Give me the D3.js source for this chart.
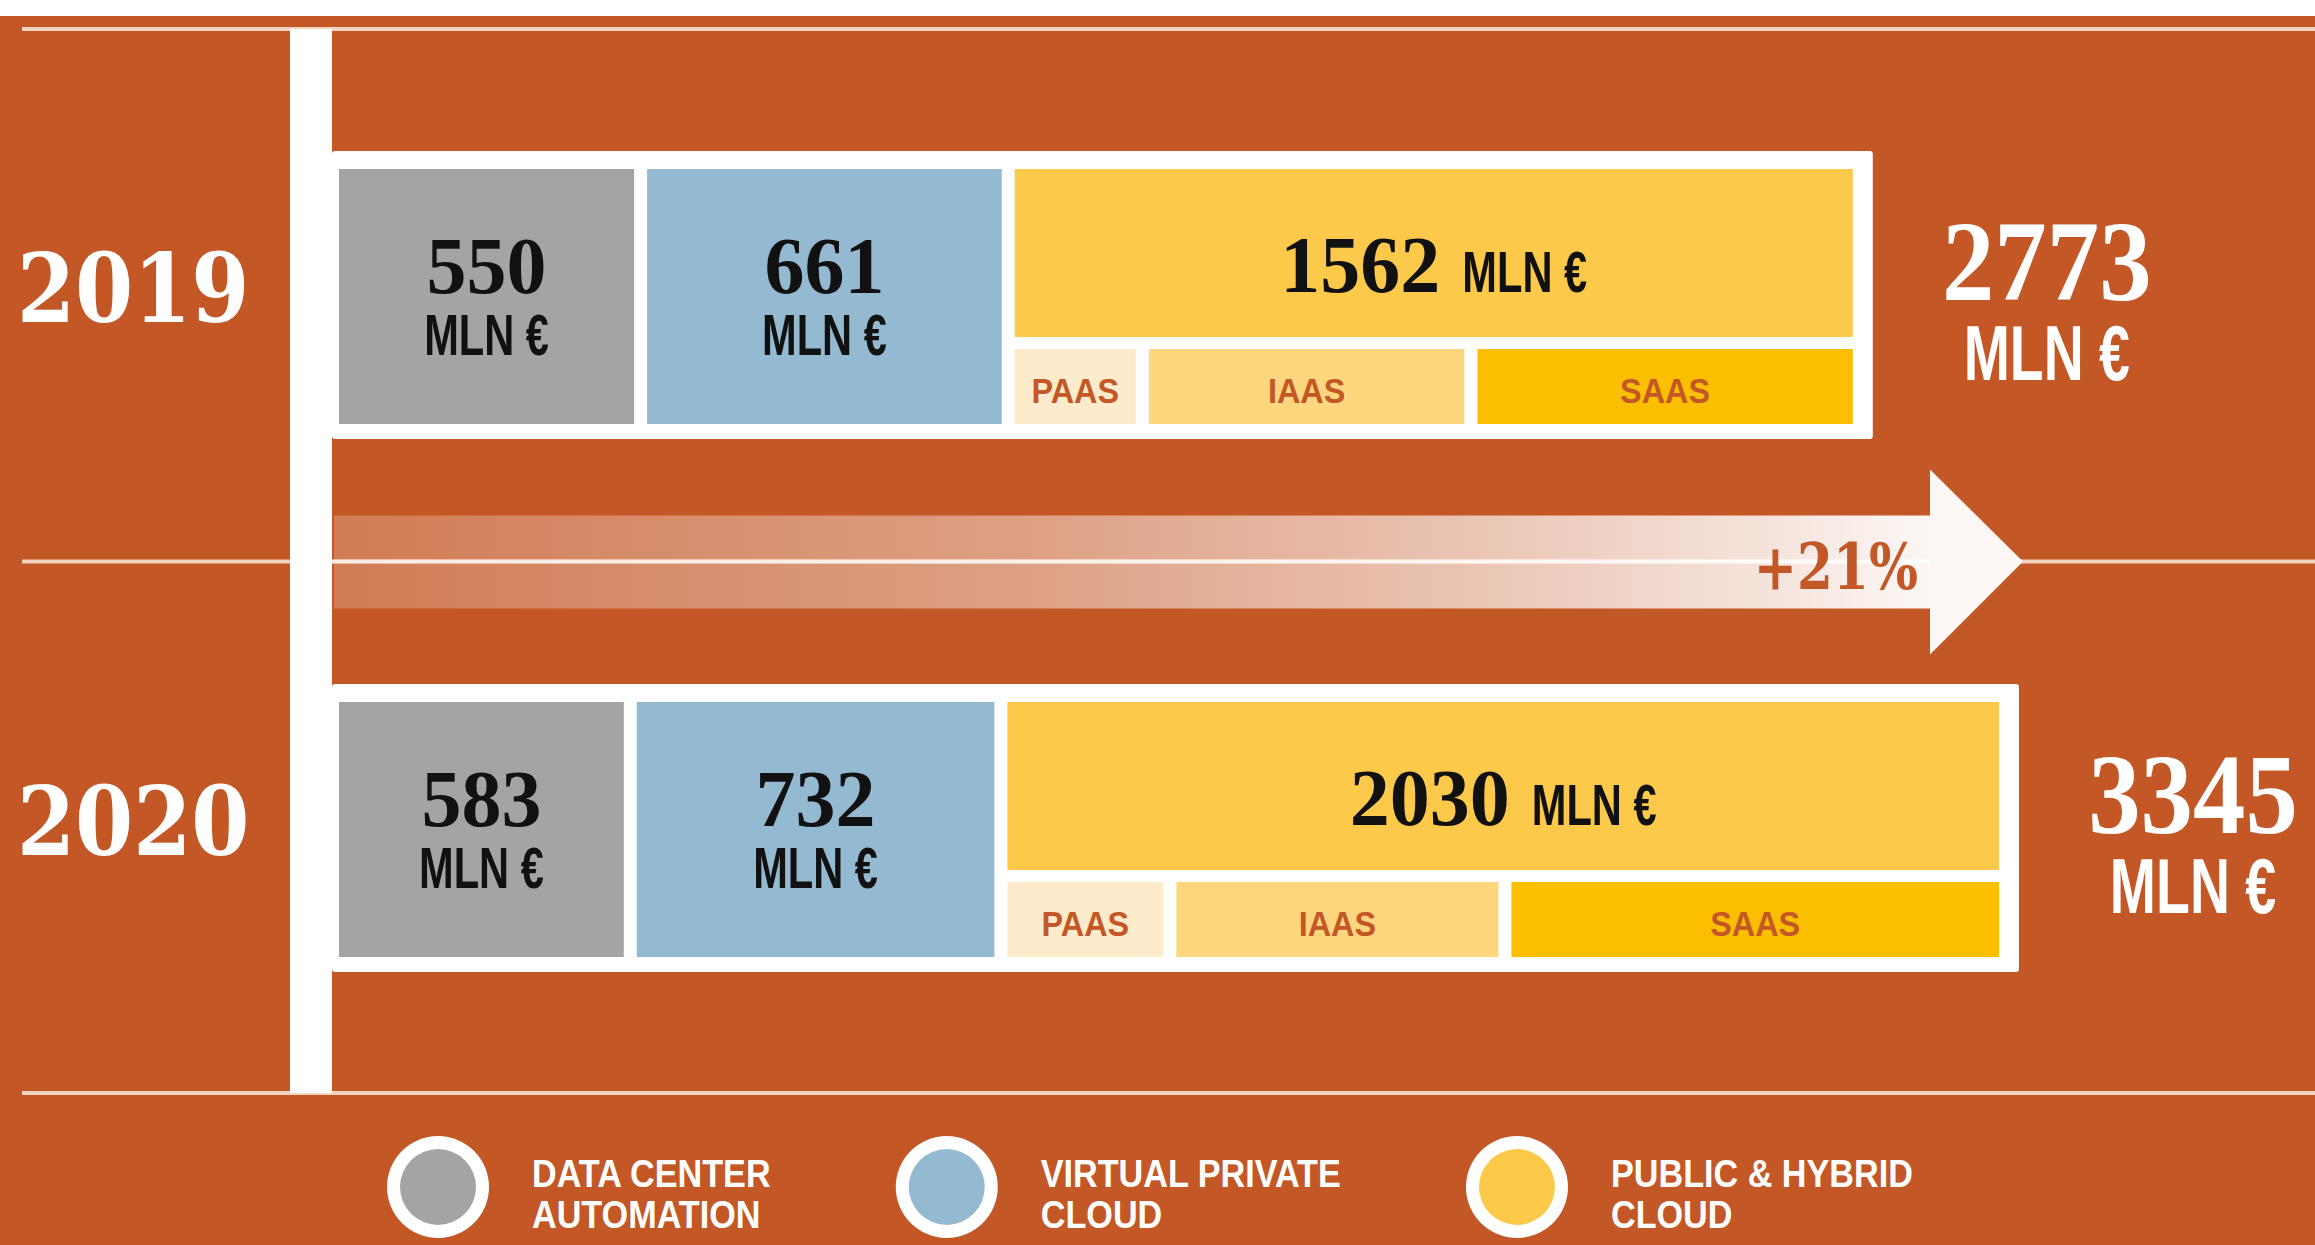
<!DOCTYPE html>
<html>
<head>
<meta charset="utf-8">
<script src="https://cdn.jsdelivr.net/npm/d3@7"></script>
<style>
    html, body { margin: 0; padding: 0; background: #fff; }
    svg { display: block; }
</style>
</head>
<body>
<svg id="chart"></svg>
<script>
//-------------------
// DATA
//-------------------
var years = ["2019", "2020"];
var dataCenter = [550, 583];
var virtualPrivate = [661, 732];
var publicHybrid = [1562, 2030];
var totals = [2773, 3345];
// split of public & hybrid cloud, estimated from the block widths
var paas = [233, 328];
var iaas = [607, 677];
var saas = [722, 1025];
var subLabels = ["PAAS", "IAAS", "SAAS"];
var unitLabel = "MLN €";
var legendLabels = [
    ["DATA CENTER", "AUTOMATION"],
    ["VIRTUAL PRIVATE", "CLOUD"],
    ["PUBLIC & HYBRID", "CLOUD"]
];

//-------------------
// GLOBAL VARIABLES
//-------------------
var width = 2315,
    height = 1245;

var bg = "#c45726",
    lineColor = "#f2d3bf",
    segColors = ["#a4a4a2", "#93bad1", "#fdc94a"],
    subColors = ["#feebcb", "#fdd67d", "#fbbe00"];

var serif = "'Liberation Serif', 'Times New Roman', serif",
    sans = "'Liberation Sans', Arial, sans-serif",
    stencil = "'DejaVu Serif', serif";

var frameLeft = 332, x0 = 339, gap = 13, framePad = 20;
var frameH = 288, innerTop = 18, innerH = 255, mainH = 168;
var topLineY = 29, bottomLineY = 1093;

var svg = d3.select("#chart")
    .attr("width", width)
    .attr("height", height);

// rows
var y = d3.scaleBand().domain(years).range([151, 1217]);
// the infographic is not to scale: bar length grows slowly with the total
var lengthScale = d3.scaleLinear().domain([0, d3.max(totals)]).range([805, 1660]);

// narrow a text horizontally around its anchor point
function squeeze(sel, factor) {
    sel.each(function () {
        var t = d3.select(this);
        var tx = +t.attr("x") || 0, ty = +t.attr("y") || 0;
        t.attr("x", 0).attr("y", 0)
            .attr("transform", "translate(" + tx + "," + ty + ") scale(" + factor + ",1)");
    });
}

function textWidth(sel) {
    return sel.node().getComputedTextLength();
}

//-------------------
// BACKGROUND
//-------------------
svg.append("rect").attr("width", width).attr("height", height).attr("fill", "#fff");
svg.append("rect").attr("y", 16).attr("width", width).attr("height", height - 16).attr("fill", bg);

var mid = (y(years[0]) + frameH + y(years[1])) / 2;

svg.selectAll("line.rule")
    .data([topLineY, mid, bottomLineY])
    .enter()
    .append("line")
    .attr("class", "rule")
    .attr("x1", 22).attr("x2", width)
    .attr("y1", d => d).attr("y2", d => d)
    .attr("stroke", lineColor)
    .attr("stroke-width", 4);

// white vertical bar
svg.append("rect")
    .attr("x", 290).attr("y", topLineY)
    .attr("width", frameLeft - 290).attr("height", bottomLineY - topLineY)
    .attr("fill", "#fff");

//-------------------
// GROWTH ARROW
//-------------------
var defs = svg.append("defs");
var grad = defs.append("linearGradient").attr("id", "fade")
    .attr("x1", "0%").attr("x2", "100%").attr("y1", "0%").attr("y2", "0%");
[[0, 0.22], [0.44, 0.44], [0.72, 0.66], [0.9, 0.84], [1, 0.95]].forEach(s => {
    grad.append("stop").attr("offset", s[0]).attr("stop-color", "#fff").attr("stop-opacity", s[1]);
});

var lastLen = lengthScale(totals[totals.length - 1]);
var tipX = x0 + lastLen + framePad + 4,
    headX = tipX - 93;

svg.append("rect")
    .attr("x", frameLeft + 2).attr("y", mid - 46)
    .attr("width", headX - frameLeft - 2).attr("height", 93)
    .attr("fill", "url(#fade)");

svg.append("line")
    .attr("x1", frameLeft).attr("x2", headX)
    .attr("y1", mid).attr("y2", mid)
    .attr("stroke", "#fff").attr("stroke-opacity", 0.45)
    .attr("stroke-width", 4);

svg.append("path")
    .attr("d", "M" + headX + "," + (mid - 46) + "L" + headX + "," + (mid - 92) +
        "L" + tipX + "," + mid + "L" + headX + "," + (mid + 93) +
        "L" + headX + "," + (mid + 47) + "Z")
    .attr("fill", "#fdf8f4");

svg.append("text")
    .attr("x", headX - 12).attr("y", mid + 27)
    .attr("text-anchor", "end")
    .attr("font-family", stencil).attr("font-weight", "bold")
    .attr("font-size", 63).attr("fill", bg)
    .text(d3.format("+.0%")(totals[1] / totals[0] - 1))
    .call(squeeze, 0.82);

//-------------------
// ROWS
//-------------------
years.forEach((year, i) => {
    var top = y(year);
    var len = lengthScale(totals[i]);
    var x = d3.scaleLinear().domain([0, totals[i]]).range([x0, x0 + len - gap * 2]);
    var frameRight = x0 + len + framePad;
    var g = svg.append("g").attr("class", "row");

    g.append("rect")
        .attr("x", frameLeft).attr("y", top)
        .attr("width", frameRight - frameLeft).attr("height", frameH)
        .attr("rx", 3)
        .attr("fill", "#fff");

    var values = [dataCenter[i], virtualPrivate[i], publicHybrid[i]];
    var cum = 0;
    var segs = values.map((v, k) => {
        var s = { v: v, k: k, x: x(cum) + k * gap };
        cum += v;
        s.w = x(cum) - x(cum - v);
        return s;
    });

    g.selectAll("rect.seg")
        .data(segs)
        .enter()
        .append("rect")
        .attr("class", "seg")
        .attr("x", d => d.x)
        .attr("y", top + innerTop)
        .attr("width", d => d.w)
        .attr("height", d => d.k === 2 ? mainH : innerH)
        .attr("fill", d => segColors[d.k]);

    // gray + blue labels
    segs.slice(0, 2).forEach(d => {
        var cx = d.x + d.w / 2;
        g.append("text")
            .attr("x", cx).attr("y", top + 142)
            .attr("text-anchor", "middle")
            .attr("font-family", serif).attr("font-weight", "bold")
            .attr("font-size", 80).attr("fill", "#111")
            .text(d.v);
        g.append("text")
            .attr("x", cx).attr("y", top + 204)
            .attr("text-anchor", "middle")
            .attr("font-family", sans).attr("font-weight", "bold")
            .attr("font-size", 57).attr("fill", "#111")
            .text(unitLabel)
            .call(squeeze, 0.73);
    });

    // public & hybrid label: number + unit centred as one group
    var yel = segs[2];
    var num = g.append("text")
        .attr("font-family", serif).attr("font-weight", "bold")
        .attr("font-size", 80).attr("fill", "#111")
        .text(yel.v);
    var unit = g.append("text")
        .attr("font-family", sans).attr("font-weight", "bold")
        .attr("font-size", 57).attr("fill", "#111")
        .text(unitLabel);
    var wN = textWidth(num),
        wU = textWidth(unit) * 0.73;
    var startX = yel.x + yel.w / 2 - (wN + 22 + wU) / 2;
    num.attr("x", startX).attr("y", top + 141);
    unit.attr("x", startX + wN + 22).attr("y", top + 141).call(squeeze, 0.73);

    // sub blocks
    var xs = d3.scaleLinear().domain([0, publicHybrid[i]]).range([yel.x, yel.x + yel.w - gap * 2]);
    var subVals = [paas[i], iaas[i], saas[i]];
    var c = 0;
    var subs = subVals.map((v, k) => {
        var s = { v: v, k: k, x: xs(c) + k * gap };
        c += v;
        s.w = xs(c) - xs(c - v);
        return s;
    });
    var subTop = top + innerTop + mainH + 12,
        subH = innerH - mainH - 12;

    g.selectAll("rect.sub")
        .data(subs)
        .enter()
        .append("rect")
        .attr("class", "sub")
        .attr("x", d => d.x).attr("y", subTop)
        .attr("width", d => d.w).attr("height", subH)
        .attr("fill", d => subColors[d.k]);

    g.selectAll("text.sub")
        .data(subs)
        .enter()
        .append("text")
        .attr("class", "sub")
        .attr("x", d => d.x + d.w / 2).attr("y", top + 252)
        .attr("text-anchor", "middle")
        .attr("font-family", sans).attr("font-weight", "bold")
        .attr("font-size", 36).attr("fill", bg)
        .text(d => subLabels[d.k])
        .call(squeeze, 0.9);

    // year
    svg.append("text")
        .attr("x", 17).attr("y", top + 171)
        .attr("font-family", stencil).attr("font-weight", "bold")
        .attr("font-size", 96).attr("fill", "#fff")
        .text(year)
        .call(squeeze, 0.87);

    // total
    var tx = frameRight + 174;
    svg.append("text")
        .attr("x", tx).attr("y", top + 149)
        .attr("text-anchor", "middle")
        .attr("font-family", serif).attr("font-weight", "bold")
        .attr("font-size", 114).attr("fill", "#fff")
        .text(totals[i])
        .call(squeeze, 0.92);
    svg.append("text")
        .attr("x", tx).attr("y", top + 229)
        .attr("text-anchor", "middle")
        .attr("font-family", sans).attr("font-weight", "bold")
        .attr("font-size", 77).attr("fill", "#fff")
        .text(unitLabel)
        .call(squeeze, 0.72);
});

//-------------------
// LEGEND
//-------------------
var legendY = 1187;
var cx = 438;
legendLabels.forEach((lines, k) => {
    var item = svg.append("g").attr("class", "legend");
    item.append("circle")
        .attr("cx", cx).attr("cy", legendY).attr("r", 51)
        .attr("fill", "#fff");
    item.append("circle")
        .attr("cx", cx).attr("cy", legendY).attr("r", 38)
        .attr("fill", segColors[k]);
    var textX = cx + 94;
    var maxW = 0;
    lines.forEach((t, j) => {
        var txt = item.append("text")
            .attr("x", textX).attr("y", legendY + j * 41)
            .attr("font-family", sans).attr("font-weight", "bold")
            .attr("font-size", 38).attr("fill", "#fff")
            .text(t);
        maxW = Math.max(maxW, textWidth(txt) * 0.9);
        txt.call(squeeze, 0.9);
    });
    cx = textX + maxW + 125 + 51;
});
</script>
</body>
</html>
